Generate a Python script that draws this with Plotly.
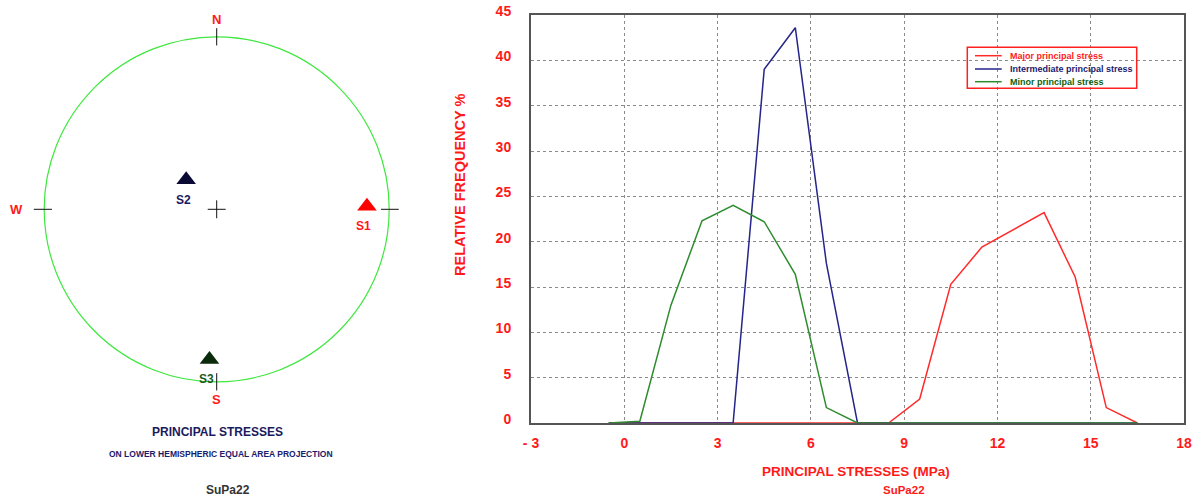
import plotly.graph_objects as go

# ---------------- data ----------------
stress_bins = [-0.5, 0.5, 1.5, 2.5, 3.5, 4.5, 5.5, 6.5, 7.5, 8.5,
               9.5, 10.5, 11.5, 12.5, 13.5, 14.5, 15.5, 16.5]
major_freq = [0, 0, 0, 0, 0, 0, 0, 0, 0, 0,
              2.65, 15.3, 19.4, 21.3, 23.2, 16.1, 1.7, 0]
intermediate_freq = [0, 0, 0, 0, 0, 39.0, 43.6, 17.6, 0, 0,
                     0, 0, 0, 0, 0, 0, 0, 0]
minor_freq = [0, 0.2, 13.0, 22.3, 24.0, 22.2, 16.4, 1.7, 0, 0,
              0, 0, 0, 0, 0, 0, 0, 0]
series_names = ["Major principal stress", "Intermediate principal stress", "Minor principal stress"]
series_colors = ["#ff2a2a", "#25258a", "#2e8b2e"]
legend_text_colors = ["#ff1a1a", "#1a1a6e", "#0f5f0f"]

x_tickvals = [-3, 0, 3, 6, 9, 12, 15, 18]
x_ticktext = ["- 3", "0", "3", "6", "9", "12", "15", "18"]
y_tickvals = [0, 5, 10, 15, 20, 25, 30, 35, 40, 45]

# stereonet (lower hemisphere equal area, unit circle coords)
pole_labels = ["S1", "S2", "S3"]
pole_x = [0.871, -0.177, -0.042]
pole_y = [0.017, 0.171, -0.870]
pole_colors = ["#ff0000", "#0a0a35", "#0a2a0a"]
pole_label_colors = ["#ff1a1a", "#1a1a5e", "#1a5a1a"]
compass_labels = ["N", "W", "S"]
compass_x = [0.0, -1.163, 0.0]
compass_y = [1.103, 0.0, -1.10]

FONT = "Liberation Sans, Arial, sans-serif"
W, H = 1199, 496

fig = go.Figure()

# histogram lines (drawn red, blue, green so green is on top)
for vals, name, col in zip([major_freq, intermediate_freq, minor_freq], series_names, series_colors):
    fig.add_trace(go.Scatter(x=stress_bins, y=vals, mode="lines", name=name,
                             line=dict(color=col, width=1.5), showlegend=False,
                             xaxis="x", yaxis="y"))

# stereonet poles
fig.add_trace(go.Scatter(x=pole_x, y=pole_y, mode="markers",
                         marker=dict(symbol="triangle-up", size=17, color=pole_colors,
                                     line=dict(width=0)),
                         showlegend=False, xaxis="x2", yaxis="y2"))

px0, px1 = 531, 1184
py_top, py_bot = 15, 423
fig.update_layout(
    width=W, height=H, autosize=False,
    margin=dict(l=0, r=0, t=0, b=0, pad=0),
    paper_bgcolor="white", plot_bgcolor="white",
    font=dict(family=FONT),
    xaxis=dict(domain=[px0 / W, px1 / W], range=[-3, 18], tickvals=x_tickvals, ticktext=x_ticktext,
               showgrid=True, gridcolor="#8a8a8a", griddash="dot", gridwidth=1,
               zeroline=False, showline=True, mirror=True, linecolor="#555555", linewidth=2,
               ticks="", ticklabelstandoff=6, layer="below traces", automargin=False,
               tickfont=dict(color="#ff1a1a", size=14, family=FONT, weight="bold")),
    yaxis=dict(domain=[1 - py_bot / H, 1 - py_top / H], range=[0, 45], tickvals=y_tickvals,
               showgrid=True, gridcolor="#8a8a8a", griddash="dot", gridwidth=1,
               zeroline=False, showline=True, mirror=True, linecolor="#555555", linewidth=2,
               ticks="", ticklabelstandoff=15, ticklabelshift=-4, layer="below traces",
               automargin=False,
               tickfont=dict(color="#ff1a1a", size=14, family=FONT, weight="bold")),
    xaxis2=dict(domain=[0, 440 / W], range=[-216.7 / 172.5, (440 - 216.7) / 172.5],
                visible=False, showgrid=False, zeroline=False, automargin=False),
    yaxis2=dict(domain=[0, 1], range=[(209.3 - 496) / 172.5, 209.3 / 172.5],
                visible=False, showgrid=False, zeroline=False, automargin=False),
)

shapes = []
# primitive circle
shapes.append(dict(type="circle", xref="x2", yref="y2", x0=-1, y0=-1, x1=1, y1=1,
                   line=dict(color="#3ee83e", width=1.2)))
tick_line = dict(color="#111111", width=1)
shapes += [
    dict(type="line", xref="x2", yref="y2", x0=0, x1=0, y0=0.95, y1=1.05, line=tick_line),
    dict(type="line", xref="x2", yref="y2", x0=0, x1=0, y0=-0.95, y1=-1.05, line=tick_line),
    dict(type="line", xref="x2", yref="y2", x0=-0.955, x1=-1.06, y0=0, y1=0, line=tick_line),
    dict(type="line", xref="x2", yref="y2", x0=0.952, x1=1.055, y0=0, y1=0, line=tick_line),
    dict(type="line", xref="x2", yref="y2", x0=-0.052, x1=0.052, y0=0, y1=0, line=tick_line),
    dict(type="line", xref="x2", yref="y2", x0=0, x1=0, y0=-0.052, y1=0.052, line=tick_line),
]

annotations = []
for t, x, y in zip(compass_labels, compass_x, compass_y):
    annotations.append(dict(xref="x2", yref="y2", x=x, y=y, text=t, showarrow=False,
                            xanchor="center", yanchor="middle",
                            font=dict(color="#ff1a1a", size=13, family=FONT, weight="bold")))
for t, x, y, c in zip(pole_labels, pole_x, pole_y, pole_label_colors):
    annotations.append(dict(xref="x2", yref="y2", x=x, y=y, text=t, showarrow=False,
                            xanchor="center", yanchor="middle", xshift=-3, yshift=-20,
                            font=dict(color=c, size=12, family=FONT, weight="bold")))


def label(px, py, text, color, size, angle=0):
    return dict(xref="paper", yref="paper", x=px / W, y=1 - py / H, text=text,
                xanchor="center", yanchor="middle", textangle=angle, showarrow=False,
                font=dict(color=color, size=size, family=FONT, weight="bold"))


annotations += [
    label(217, 431.7, "PRINCIPAL STRESSES", "#1a1a5e", 12),
    label(221.3, 454, "ON LOWER HEMISPHERIC EQUAL AREA PROJECTION", "#1a1a6e", 8.5),
    label(227.7, 489.5, "SuPa22", "#333333", 12),
    label(855.8, 471.7, "PRINCIPAL STRESSES (MPa)", "#ff1a1a", 13.5),
    label(904, 489.5, "SuPa22", "#ff1a1a", 11.5),
    label(460, 185, "RELATIVE FREQUENCY %", "#ff1a1a", 14.5, angle=-90),
]

# manual legend
lx0, lx1, ly0, ly1 = 967.3, 1136.7, 47.3, 88.3
shapes.append(dict(type="rect", xref="paper", yref="paper", x0=lx0 / W, x1=lx1 / W,
                   y0=1 - ly1 / H, y1=1 - ly0 / H, line=dict(color="#ff2020", width=1.5),
                   fillcolor="rgba(0,0,0,0)"))
row_y = [55.7, 69.0, 81.7]
for name, col, tcol, ry in zip(series_names, series_colors, legend_text_colors, row_y):
    shapes.append(dict(type="line", xref="paper", yref="paper", x0=975 / W, x1=1001.7 / W,
                       y0=1 - ry / H, y1=1 - ry / H, line=dict(color=col, width=1.5)))
    annotations.append(dict(xref="paper", yref="paper", x=1007.7 / W, y=1 - ry / H, text=name,
                            xanchor="left", yanchor="middle", showarrow=False,
                            font=dict(color=tcol, size=9, family=FONT, weight="bold")))

fig.update_layout(shapes=shapes, annotations=annotations)
# remove the default 8px page margin so the 1199x496 figure fills the window exactly
fig.write_html("out.html", config={"displayModeBar": False},
               post_script="document.body.style.margin='0';document.body.style.overflow='hidden';")
